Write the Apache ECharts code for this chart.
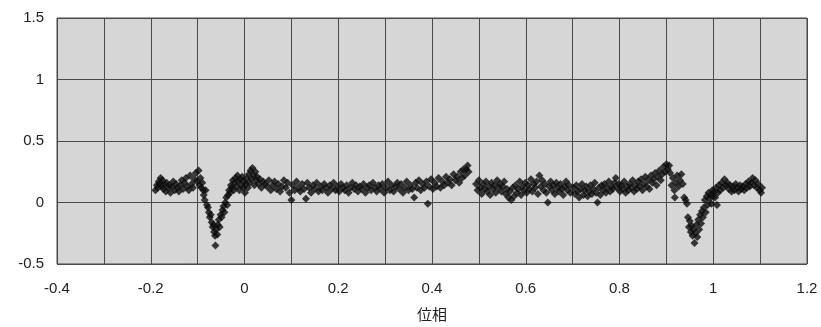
<!DOCTYPE html>
<html>
<head>
<meta charset="utf-8">
<style>
  html, body { margin: 0; padding: 0; background: #fff; }
  #main { width: 821px; height: 327px; }
</style>
<script src="https://cdn.jsdelivr.net/npm/echarts@6/dist/echarts.min.js"></script>
</head>
<body>
<div id="main"></div>
<script>
// 位相 vs 光度差 (各区間ごとに [phase, value])
const preDip = [
  [-0.190,0.10],[-0.187,0.14],[-0.185,0.12],[-0.183,0.17],[-0.181,0.15],[-0.179,0.20],[-0.177,0.13],[-0.175,0.18],
  [-0.173,0.11],[-0.171,0.15],[-0.168,0.09],[-0.166,0.16],[-0.163,0.12],[-0.160,0.14],[-0.158,0.08],[-0.155,0.13],
  [-0.152,0.17],[-0.149,0.10],[-0.146,0.15],[-0.143,0.12],[-0.140,0.09],[-0.137,0.14],[-0.134,0.18],[-0.131,0.11],
  [-0.128,0.16],[-0.125,0.20],[-0.122,0.13],[-0.119,0.10],[-0.116,0.22],[-0.113,0.15],[-0.110,0.12],[-0.107,0.19],
  [-0.104,0.24],[-0.101,0.17],[-0.098,0.26],[-0.096,0.14],[-0.094,0.20],[-0.092,0.12],[-0.090,0.16],[-0.088,0.10]
];
const primaryDip = [
  [-0.087,0.06],[-0.085,0.02],[-0.083,0.10],[-0.080,-0.02],[-0.078,-0.04],[-0.076,-0.08],[-0.074,-0.12],[-0.072,-0.10],
  [-0.070,-0.16],[-0.068,-0.20],[-0.066,-0.18],[-0.065,-0.24],[-0.063,-0.27],[-0.062,-0.35],[-0.060,-0.22],[-0.058,-0.26],
  [-0.057,-0.18],[-0.055,-0.14],[-0.053,-0.20],[-0.051,-0.10],[-0.049,-0.12],[-0.047,-0.06],[-0.045,-0.03],[-0.043,-0.08],
  [-0.041,0.00],[-0.039,0.04],[-0.037,-0.02],[-0.035,0.06],[-0.033,0.10],[-0.031,0.08],[-0.029,0.14],[-0.027,0.12],
  [-0.025,0.18],[-0.023,0.10],[-0.021,0.16],[-0.019,0.20]
];
const afterDip = [
  [-0.017,0.13],[-0.015,0.22],[-0.013,0.17],[-0.011,0.10],[-0.009,0.19],[-0.007,0.14],[-0.005,0.21],[-0.003,0.12],
  [-0.001,0.17],[0.001,0.08],[0.003,0.15],[0.005,0.20],[0.007,0.12],[0.009,0.23],[0.011,0.16],[0.013,0.26],
  [0.015,0.19],[0.017,0.28],[0.019,0.22],[0.021,0.14],[0.023,0.25],[0.025,0.18],[0.027,0.21],[0.030,0.15],
  [0.033,0.19],[0.036,0.12],[0.040,0.17],[0.044,0.15],[0.048,0.13],[0.052,0.18]
];
const firstHalf = [
  [0.056,0.10],[0.060,0.14],[0.064,0.17],[0.068,0.11],[0.072,0.15],[0.076,0.09],[0.080,0.13],[0.084,0.18],
  [0.088,0.12],[0.092,0.16],[0.096,0.08],[0.100,0.02],[0.103,0.14],[0.107,0.10],[0.111,0.17],[0.115,0.12],
  [0.119,0.09],[0.123,0.15],[0.127,0.11],[0.131,0.03],[0.134,0.16],[0.138,0.12],[0.142,0.08],[0.146,0.14],
  [0.150,0.11],[0.154,0.16],[0.158,0.09],[0.162,0.13],[0.166,0.10],[0.170,0.15],[0.174,0.12],[0.178,0.08],
  [0.182,0.14],[0.186,0.11],[0.190,0.16],[0.194,0.10],[0.198,0.13],[0.202,0.09],[0.206,0.15],[0.210,0.12],
  [0.214,0.10],[0.218,0.14],[0.222,0.08],[0.226,0.12],[0.230,0.16],[0.234,0.11],[0.238,0.14],[0.242,0.09],
  [0.246,0.13],[0.250,0.11],[0.254,0.15],[0.258,0.08],[0.262,0.12],[0.266,0.14],[0.270,0.10],[0.274,0.16],
  [0.278,0.12],[0.282,0.09],[0.286,0.14],[0.290,0.11],[0.294,0.15],[0.298,0.08],[0.302,0.12],[0.306,0.17],
  [0.310,0.10],[0.314,0.14],[0.318,0.09],[0.322,0.13],[0.326,0.16],[0.330,0.11],[0.334,0.15],[0.338,0.08],
  [0.342,0.12],[0.346,0.17],[0.350,0.10],[0.354,0.14],[0.358,0.11],[0.362,0.04],[0.365,0.16],[0.368,0.12],
  [0.372,0.18],[0.376,0.10],[0.380,0.15],[0.384,0.12],[0.388,0.17],[0.391,-0.01],[0.394,0.13],[0.398,0.19],
  [0.402,0.11],[0.406,0.16],[0.410,0.13],[0.414,0.20],[0.418,0.12],[0.422,0.17],[0.426,0.14],[0.430,0.21],
  [0.434,0.16],[0.438,0.19],[0.442,0.14],[0.446,0.23],[0.450,0.18],[0.454,0.21],[0.458,0.16],[0.461,0.25],
  [0.464,0.20],[0.467,0.27],[0.470,0.22],[0.473,0.27],[0.476,0.30],[0.478,0.25]
];
const secondHalf = [
  [0.494,0.15],[0.497,0.10],[0.500,0.18],[0.503,0.12],[0.506,0.07],[0.509,0.15],[0.512,0.11],[0.515,0.17],
  [0.518,0.09],[0.521,0.13],[0.524,0.06],[0.527,0.16],[0.530,0.11],[0.533,0.14],[0.536,0.08],[0.539,0.18],
  [0.542,0.12],[0.545,0.15],[0.548,0.09],[0.551,0.13],[0.554,0.17],[0.557,0.07],[0.560,0.11],[0.563,0.04],
  [0.566,0.09],[0.569,0.02],[0.572,0.12],[0.575,0.05],[0.578,0.14],[0.581,0.08],[0.584,0.11],[0.587,0.17],
  [0.590,0.06],[0.593,0.13],[0.596,0.10],[0.599,0.16],[0.602,0.08],[0.605,0.14],[0.608,0.11],[0.611,0.19],
  [0.614,0.09],[0.617,0.15],[0.620,0.12],[0.623,0.17],[0.626,0.07],[0.629,0.22],[0.632,0.13],[0.635,0.18],
  [0.638,0.10],[0.641,0.15],[0.644,0.08],[0.647,0.00],[0.650,0.13],[0.653,0.17],[0.656,0.10],[0.659,0.14],
  [0.662,0.07],[0.665,0.16],[0.668,0.12],[0.671,0.09],[0.674,0.15],[0.677,0.11],[0.680,0.06],[0.683,0.13],
  [0.686,0.17],[0.689,0.10],[0.692,0.14],[0.695,0.08],[0.702,0.12],[0.705,0.07],[0.708,0.14],[0.711,0.09],
  [0.714,0.04],[0.717,0.11],[0.720,0.15],[0.723,0.06],[0.726,0.10],[0.729,0.13],[0.732,0.05],[0.735,0.09],
  [0.738,0.14],[0.741,0.07],[0.744,0.11],[0.747,0.16],[0.750,0.08],[0.753,0.00],[0.756,0.12],[0.759,0.06],
  [0.762,0.14],[0.765,0.10],[0.768,0.15],[0.771,0.08],[0.774,0.12],[0.777,0.17],[0.780,0.09],[0.783,0.13],
  [0.786,0.11],[0.789,0.16],[0.792,0.20],[0.795,0.12],[0.798,0.15],[0.801,0.09],[0.804,0.14],[0.807,0.11],
  [0.810,0.17],[0.813,0.08],[0.816,0.13],[0.819,0.10],[0.822,0.15],[0.825,0.12],[0.828,0.18],[0.831,0.09],
  [0.834,0.14],[0.837,0.11],[0.840,0.17],[0.843,0.13],[0.846,0.19],[0.849,0.10],[0.852,0.15],[0.855,0.21],
  [0.858,0.13],[0.861,0.18],[0.864,0.11],[0.867,0.22],[0.870,0.16],[0.873,0.19],[0.876,0.24],[0.879,0.14],
  [0.882,0.21],[0.885,0.26],[0.888,0.18],[0.891,0.23],[0.894,0.29],[0.897,0.25],[0.900,0.31],[0.903,0.27],
  [0.906,0.30],[0.908,0.24]
];
const secondDip = [
  [0.911,0.14],[0.914,0.20],[0.917,0.10],[0.918,0.04],[0.920,0.16],[0.923,0.22],[0.926,0.13],[0.929,0.18],
  [0.932,0.23],[0.935,0.15],[0.938,0.04],[0.941,0.02],[0.944,-0.01],[0.946,-0.12],[0.948,-0.20],[0.950,-0.15],
  [0.952,-0.24],[0.954,-0.19],[0.956,-0.27],[0.958,-0.22],[0.960,-0.33],[0.962,-0.25],[0.964,-0.18],[0.966,-0.28],
  [0.968,-0.14],[0.970,-0.22],[0.972,-0.10],[0.974,-0.17],[0.976,-0.07],[0.978,-0.12],[0.980,-0.04],[0.982,0.02],
  [0.984,-0.08],[0.986,0.05],[0.988,-0.02],[0.990,0.08],[0.992,0.03],[0.994,0.06],[0.996,-0.01],[0.998,0.10],
  [1.000,0.05],[1.002,0.09],[1.004,0.04],[1.006,0.12],[1.008,-0.02],[1.010,0.08],[1.012,0.14],[1.015,0.10],
  [1.018,0.16],[1.021,0.12],[1.024,0.19],[1.027,0.14]
];
const tail = [
  [1.030,0.16],[1.033,0.11],[1.036,0.14],[1.039,0.09],[1.042,0.13],[1.045,0.10],[1.048,0.15],[1.051,0.12],
  [1.054,0.09],[1.057,0.14],[1.060,0.11],[1.063,0.13],[1.066,0.10],[1.069,0.15],[1.072,0.12],[1.075,0.17],
  [1.078,0.13],[1.081,0.16],[1.084,0.20],[1.087,0.14],[1.090,0.18],[1.093,0.12],[1.096,0.15],[1.099,0.10],
  [1.102,0.08],[1.104,0.12]
];

const points = [].concat(preDip, primaryDip, afterDip, firstHalf, secondHalf, secondDip, tail);

const chart = echarts.init(document.getElementById('main'));
const option = {
  animation: false,
  backgroundColor: '#ffffff',
  textStyle: { fontFamily: 'Liberation Sans, Arial, sans-serif' },
  grid: {
    left: 57, right: 14, top: 18, bottom: 62,
    show: true,
    backgroundColor: '#d6d6d6',
    borderColor: '#4a4a4a',
    borderWidth: 1
  },
  xAxis: {
    type: 'value',
    min: -0.4, max: 1.2, interval: 0.2,
    name: '位相',
    nameLocation: 'middle',
    nameGap: 43,
    nameTextStyle: { fontFamily: 'Noto Sans CJK JP', fontSize: 15, color: '#1e1e1e' },
    axisLine: { show: false },
    axisTick: { show: false },
    axisLabel: { fontSize: 15, color: '#222', margin: 17 },
    splitLine: { show: true, lineStyle: { color: '#4a4a4a', width: 1 } },
    minorTick: { show: false, splitNumber: 2 },
    minorSplitLine: { show: true, lineStyle: { color: '#4a4a4a', width: 1 } }
  },
  yAxis: {
    type: 'value',
    min: -0.5, max: 1.5, interval: 0.5,
    axisLine: { show: false },
    axisTick: { show: false },
    axisLabel: { fontSize: 15, color: '#222', margin: 13 },
    splitLine: { show: true, lineStyle: { color: '#4a4a4a', width: 1 } }
  },
  series: [{
    type: 'scatter',
    data: points,
    symbol: 'diamond',
    symbolSize: 8,
    itemStyle: { color: '#0c0c0c' }
  }]
};
chart.setOption(option);
</script>
</body>
</html>
